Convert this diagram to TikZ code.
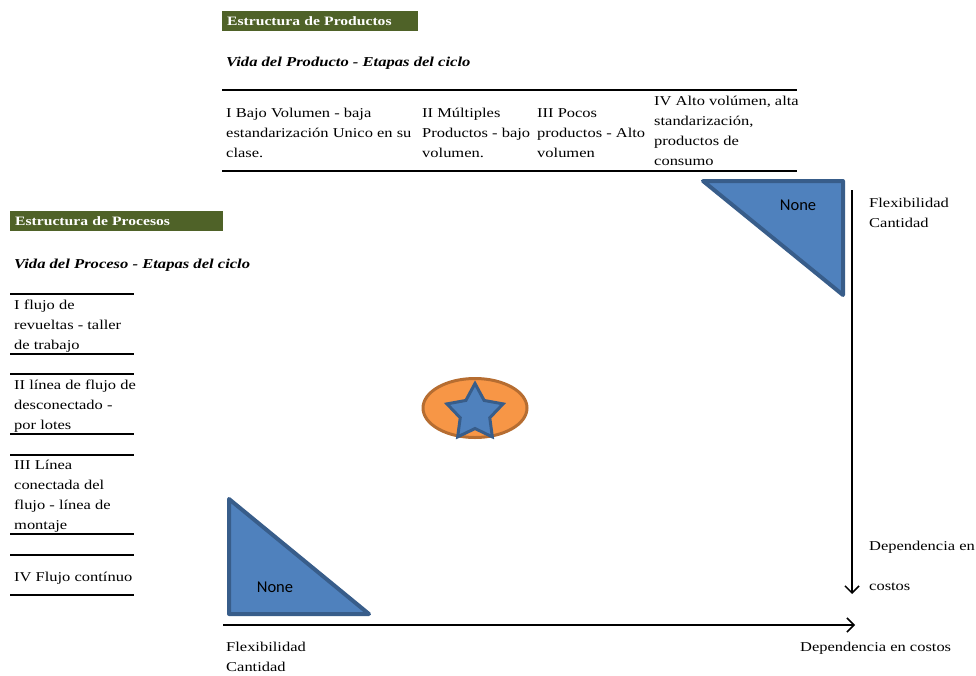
\documentclass[tikz,border=0pt]{standalone}
\usepackage{fontspec}
\setmainfont[FakeStretch=1.22]{Liberation Serif}
\newfontfamily\nonefont{Carlito}
\usetikzlibrary{arrows.meta,shapes.geometric}
\definecolor{barverde}{HTML}{4F6228}
\definecolor{azul}{HTML}{4F81BD}
\definecolor{azulborde}{HTML}{385D8A}
\definecolor{naranja}{HTML}{F79646}
\definecolor{naranjaborde}{HTML}{B66D31}
\tikzset{
	barra/.style={fill=barverde, text=white, anchor=north west, inner sep=0pt,
		font=\bfseries\fontsize{12.8}{14}\selectfont, align=left, minimum height=20pt},
	subtitulo/.style={anchor=base west, inner sep=0pt, font=\bfseries\itshape\fontsize{13.6}{15}\selectfont},
	texto/.style={anchor=north west, inner sep=0pt, align=left, font=\fontsize{13.5}{20}\selectfont},
	linea/.style={anchor=base west, inner sep=0pt, font=\fontsize{13.5}{20}\selectfont},
	regla/.style={line width=1.6pt},
	triangulo/.style={fill=azul, draw=azulborde, line width=4pt, line join=round},
	nonetxt/.style={inner sep=0pt, font=\nonefont\fontsize{16.5}{18}\selectfont},
	flecha/.style={line width=1.5pt, -{Straight Barb[length=7pt,width=14pt,line width=1.5pt]}}
}
\begin{document}
\begin{tikzpicture}[x=1pt, y=-1pt]
	\useasboundingbox (0,0) rectangle (976,675);
	% estructura de productos
	\node[barra, minimum width=196pt, text width=186pt, inner xsep=5pt] (barprod) at (222,11) {Estructura de Productos};
	\node[subtitulo] (vidaprod) at (226,66) {Vida del Producto - Etapas del ciclo};
	\draw[regla] (222,90) -- (797,90);
	\draw[regla] (222,171) -- (797,171);
	\node[texto] (prodI) at (226,108) {I Bajo Volumen - baja\\estandarización Unico en su\\clase.};
	\node[texto] (prodII) at (422,108) {II Múltiples\\Productos - bajo\\volumen.};
	\node[texto] (prodIII) at (537,108) {III Pocos\\productos - Alto\\volumen};
	\node[texto] (prodIV) at (654,95.5) {IV Alto volúmen, alta\\standarización,\\productos de\\consumo};
	% estructura de procesos
	\node[barra, minimum width=213pt, text width=203pt, inner xsep=5pt] (barproc) at (10,211) {Estructura de Procesos};
	\node[subtitulo] (vidaproc) at (14,268) {Vida del Proceso - Etapas del ciclo};
	\foreach \ya/\yb in {294/354, 374/434, 455/534, 555/595}{
		\draw[regla] (10,\ya) -- (134,\ya);
		\draw[regla] (10,\yb) -- (134,\yb);
	}
	\node[texto] (procI) at (14,300) {I flujo de\\revueltas - taller\\de trabajo};
	\node[texto] (procII) at (14,380) {II línea de flujo de\\desconectado -\\por lotes};
	\node[texto] (procIII) at (14,460) {III Línea\\conectada del\\flujo - línea de\\montaje};
	\node[linea] (procIV) at (14,581) {IV Flujo contínuo};
	% triangulos
	\draw[triangulo] (703,181) -- (843,181) -- (843,295) -- cycle;
	\node[nonetxt] (noneA) at (798,205) {None};
	\draw[triangulo] (229,499) -- (229,614) -- (369,614) -- cycle;
	\node[nonetxt] (noneB) at (275,587) {None};
	% elipse con estrella
	\node[ellipse, fill=naranja, draw=naranjaborde, line width=3pt, minimum width=104pt, minimum height=59pt, inner sep=0pt] (elipse) at (475,408) {};
	\node[star, star points=5, star point ratio=1.9, fill=azul, draw=azulborde, line width=3pt, minimum size=59pt, inner sep=0pt] (estrella) at (475,413) {};
	% ejes
	\coordinate (vtop) at (852,190);
	\coordinate (vbot) at (852,594);
	\coordinate (hizq) at (223,625);
	\coordinate (hder) at (855,625);
	\draw[flecha] (vtop) -- (vbot);
	\draw[flecha] (hizq) -- (hder);
	\node[texto] (flexder) at (869,198) {Flexibilidad\\Cantidad};
	\node[linea] (depder) at (869,550.5) {Dependencia en};
	\node[linea] (costder) at (869,590.5) {costos};
	\node[texto] (flexabj) at (226,642) {Flexibilidad\\Cantidad};
	\node[linea] (depabj) at (800,651) {Dependencia en costos};
\end{tikzpicture}
\end{document}
